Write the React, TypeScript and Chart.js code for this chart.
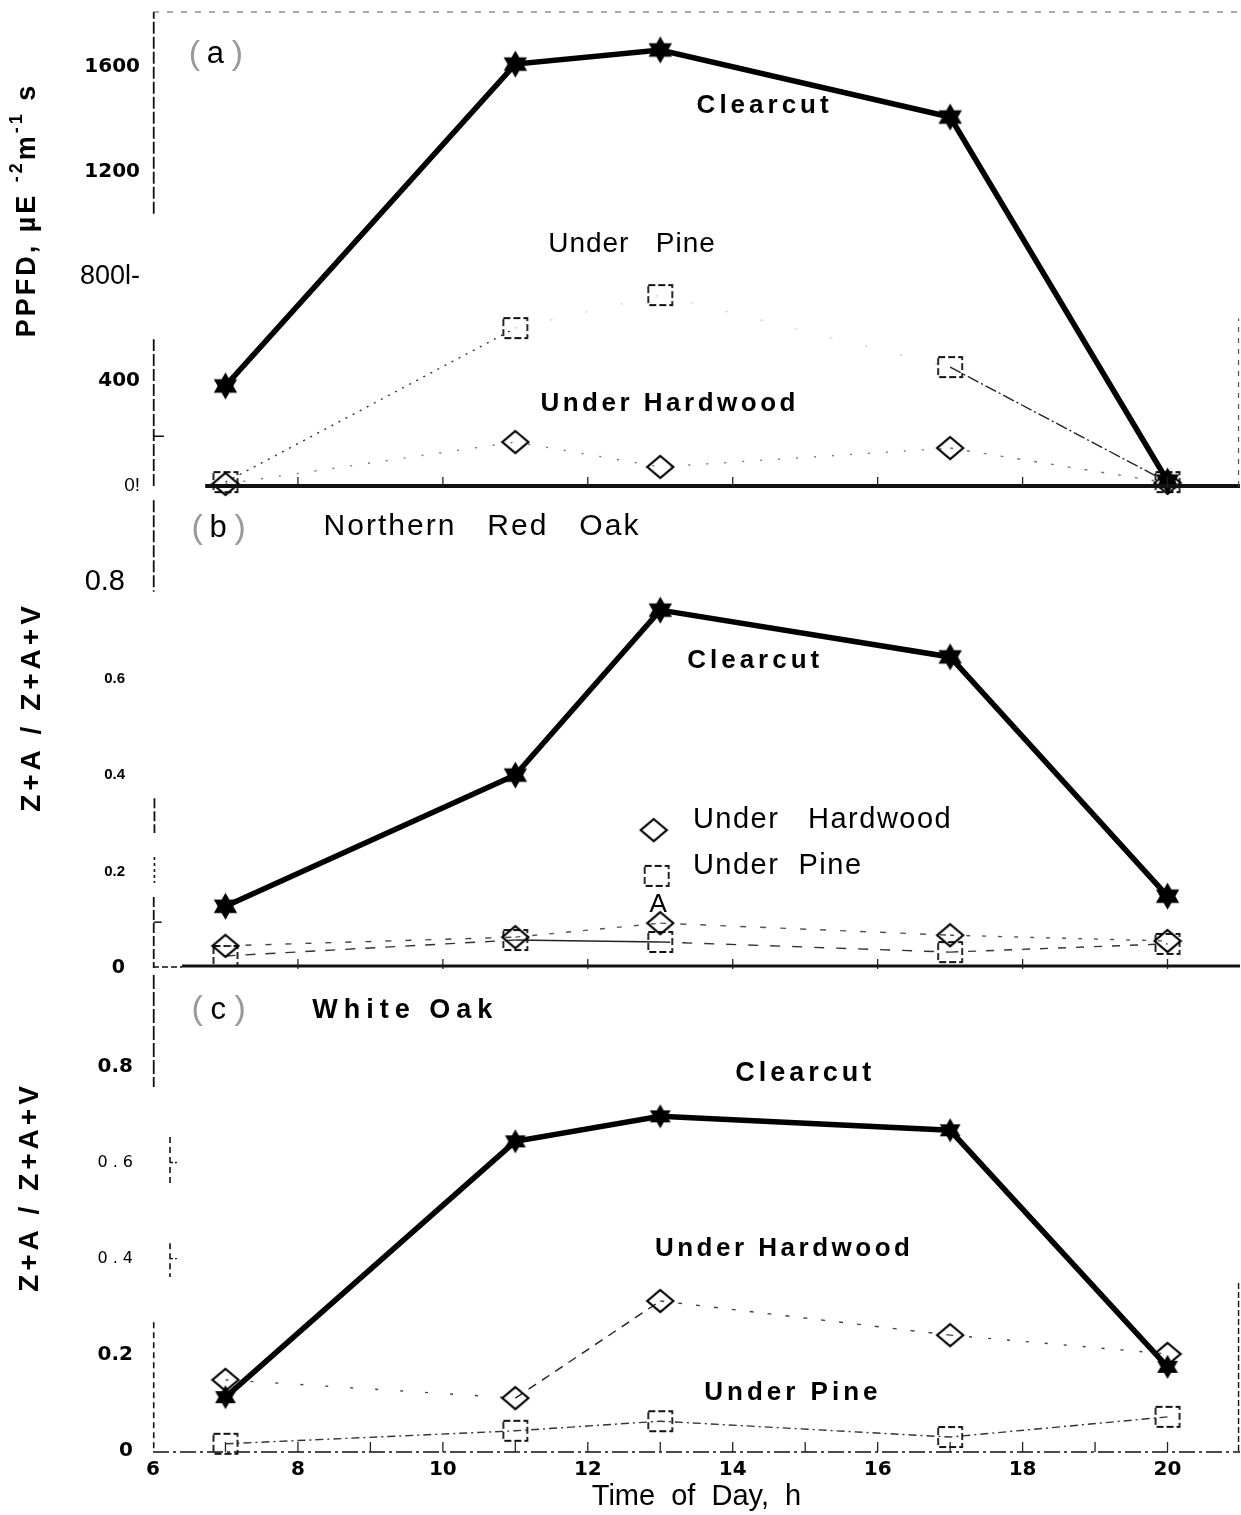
import React, { useEffect, useRef } from "react";
import { Chart, registerables } from "chart.js";
Chart.register(...registerables);

// ---------------- data ----------------
const hours = [7, 11, 13, 17, 20];
const xTickValues = [6, 8, 10, 12, 14, 16, 18, 20];
const xTickLabels = ["6", "8", "10", "12", "14", "16", "18", "20"];

// (a) PPFD
const ppfdClearcut = [382, 1611, 1665, 1409, 19];
const ppfdUnderPine = [15, 603, 729, 454, 15];
const ppfdUnderHardwood = [8, 168, 73, 145, 12];
const ppfdTickValues = [0, 400, 800, 1200, 1600];
const ppfdTickLabels = ["0!", "400", "800l-", "1200", "1600"];

// (b) Northern Red Oak
const redOakClearcut = [0.128, 0.4, 0.742, 0.645, 0.149];
const redOakUnderHardwood = [0.046, 0.064, 0.093, 0.068, 0.056];
const redOakUnderPine = [0.025, 0.058, 0.054, 0.033, 0.05];
const redOakTickValues = [0, 0.2, 0.4, 0.6, 0.8];
const redOakTickLabels = ["0", "0.2", "0.4", "0.6", "0.8"];

// (c) White Oak
const whiteOakClearcut = [0.112, 0.644, 0.696, 0.667, 0.175];
const whiteOakUnderHardwood = [0.148, 0.11, 0.312, 0.241, 0.202];
const whiteOakUnderPine = [0.015, 0.042, 0.062, 0.029, 0.071];
const whiteOakTickValues = [0, 0.2, 0.4, 0.6, 0.8];
const whiteOakTickLabels = ["0", "0.2", "0 . 4", "0 . 6", "0.8"];

// ---------------- styles ----------------
const SANS = '"Liberation Sans", Arial, sans-serif';
const DEJA = '"DejaVu Sans", sans-serif';
const X_MIN = 6;
const X_MAX = 21;

type Ann = { text: string; x: number; y: number; font: string; spacing?: number; align?: CanvasTextAlign };
type Ln = { x0: number; y0: number; x1: number; y1: number; w: number; dash?: number[]; color?: string };
type Rich = { t: string; sup?: boolean };
type Decor = {
  tag: { letter: string; x: number; y: number; font: string };
  anns: Ann[];
  lines: Ln[];
  hourTicks: number[];
  title: { parts: Rich[]; cx: number; cy: number; font: string; supFont: string; spacing: number };
  legend?: { img: "diamond" | "square"; x: number; y: number }[];
};

function makeStar(R: number): HTMLCanvasElement {
  const c = document.createElement("canvas");
  const s = Math.ceil(R * 2 + 4);
  c.width = s;
  c.height = s;
  const g = c.getContext("2d")!;
  const r = R / Math.sqrt(3);
  g.fillStyle = "#000";
  g.beginPath();
  for (let i = 0; i < 12; i++) {
    const rr = i % 2 === 0 ? R : r;
    const a = -Math.PI / 2 + (i * Math.PI) / 6;
    const px = s / 2 + rr * Math.cos(a);
    const py = s / 2 + rr * Math.sin(a);
    if (i === 0) g.moveTo(px, py);
    else g.lineTo(px, py);
  }
  g.closePath();
  g.fill();
  return c;
}

function makeDiamond(): HTMLCanvasElement {
  const c = document.createElement("canvas");
  c.width = 30;
  c.height = 26;
  const g = c.getContext("2d")!;
  g.strokeStyle = "#000";
  g.lineWidth = 2.2;
  g.beginPath();
  g.moveTo(15, 2);
  g.lineTo(28, 13);
  g.lineTo(15, 24);
  g.lineTo(2, 13);
  g.closePath();
  g.stroke();
  return c;
}

function makeSquare(): HTMLCanvasElement {
  const c = document.createElement("canvas");
  c.width = 30;
  c.height = 26;
  const g = c.getContext("2d")!;
  g.strokeStyle = "#111";
  g.lineWidth = 1.8;
  g.setLineDash([7, 3]);
  g.strokeRect(3, 3, 24, 20);
  return c;
}

function decorPlugin(d: Decor, imgs: { diamond: HTMLCanvasElement; square: HTMLCanvasElement }) {
  return {
    id: "decor",
    afterDraw(chart: any) {
      const ctx = chart.ctx as CanvasRenderingContext2D;
      const xs = chart.scales.x;
      const ys = chart.scales.y;
      const px = (v: number) => xs.getPixelForValue(v);
      const py = (v: number) => ys.getPixelForValue(v);
      ctx.save();
      for (const l of d.lines) {
        ctx.beginPath();
        ctx.strokeStyle = l.color ?? "#111";
        ctx.lineWidth = l.w;
        ctx.setLineDash(l.dash ?? []);
        ctx.moveTo(px(l.x0), py(l.y0));
        ctx.lineTo(px(l.x1), py(l.y1));
        ctx.stroke();
      }
      ctx.setLineDash([]);
      const yb = chart.chartArea.bottom;
      ctx.strokeStyle = "#222";
      ctx.lineWidth = 1.3;
      for (const h of d.hourTicks) {
        ctx.beginPath();
        ctx.moveTo(px(h), yb + 1);
        ctx.lineTo(px(h), yb - 9);
        ctx.stroke();
      }
      if (d.legend) {
        for (const m of d.legend) {
          const im = imgs[m.img];
          ctx.drawImage(im, px(m.x) - im.width / 2, py(m.y) - im.height / 2);
        }
      }
      ctx.fillStyle = "#000";
      ctx.textBaseline = "middle";
      for (const a of d.anns) {
        ctx.font = a.font;
        (ctx as any).letterSpacing = (a.spacing ?? 0) + "px";
        ctx.textAlign = a.align ?? "center";
        ctx.fillText(a.text, px(a.x), py(a.y));
      }
      (ctx as any).letterSpacing = "0px";
      // panel tag
      const tx = px(d.tag.x);
      const ty = py(d.tag.y);
      ctx.textAlign = "center";
      ctx.font = d.tag.font;
      ctx.fillStyle = "#000";
      ctx.fillText(d.tag.letter, tx, ty);
      ctx.font = `300 34px ${SANS}`;
      ctx.fillStyle = "#999";
      ctx.fillText("(", tx - 21, ty);
      ctx.fillText(")", tx + 22, ty);
      // rotated axis title
      const t = d.title;
      ctx.translate(t.cx, t.cy);
      ctx.rotate(-Math.PI / 2);
      ctx.fillStyle = "#000";
      ctx.textAlign = "left";
      (ctx as any).letterSpacing = t.spacing + "px";
      let total = 0;
      const widths: number[] = [];
      for (const p of t.parts) {
        ctx.font = p.sup ? t.supFont : t.font;
        const w = ctx.measureText(p.t).width;
        widths.push(w);
        total += w;
      }
      let x = -total / 2;
      t.parts.forEach((p, i) => {
        ctx.font = p.sup ? t.supFont : t.font;
        ctx.fillText(p.t, x, p.sup ? -11 : 0);
        x += widths[i];
      });
      ctx.restore();
    },
  };
}

const evenHours = [8, 10, 12, 14, 16, 18, 20];
const allHours = [7, 8, 9, 10, 11, 12, 13, 14, 15, 16, 17, 18, 19, 20];

const decorA: Decor = {
  tag: { letter: "a", x: 6.86, y: 1646, font: `31px ${SANS}` },
  anns: [
    { text: "Clearcut", x: 14.44, y: 1451, font: `bold 26px ${SANS}`, spacing: 4 },
    { text: "Under   Pine", x: 12.61, y: 924, font: `28px ${SANS}`, spacing: 1 },
    { text: "Under Hardwood", x: 13.13, y: 313, font: `bold 26px ${SANS}`, spacing: 3.5 },
  ],
  lines: [
    { x0: 6.01, y0: 0, x1: 6.01, y1: 560, w: 1.8, dash: [12, 3] },
    { x0: 6.01, y0: 1040, x1: 6.01, y1: 1810, w: 1.8, dash: [12, 3] },
    { x0: 6.01, y0: 190, x1: 6.15, y1: 190, w: 1.5 },
    { x0: 6.72, y0: 0, x1: 21, y1: 0, w: 4 },
    { x0: 6.0, y0: 1810, x1: 21, y1: 1810, w: 1.2, dash: [6, 8], color: "#555" },
    { x0: 20.98, y0: 0, x1: 20.98, y1: 640, w: 1.2, dash: [5, 6], color: "#555" },
  ],
  hourTicks: evenHours,
  title: {
    parts: [{ t: "PPFD, µE " }, { t: "-2", sup: true }, { t: "m" }, { t: "-1", sup: true }, { t: " s" }],
    cx: 28,
    cy: 210,
    font: `bold 27px ${SANS}`,
    supFont: `bold 18px ${SANS}`,
    spacing: 3,
  },
};

const decorB: Decor = {
  tag: { letter: "b", x: 6.9, y: 0.912, font: `31px ${SANS}` },
  anns: [
    { text: "Northern   Red   Oak", x: 10.54, y: 0.914, font: `30px ${SANS}`, spacing: 2 },
    { text: "Clearcut", x: 14.31, y: 0.636, font: `bold 26px ${SANS}`, spacing: 4 },
    { text: "Under   Hardwood", x: 13.45, y: 0.307, font: `29px ${SANS}`, spacing: 1.5, align: "left" },
    { text: "Under  Pine", x: 13.45, y: 0.211, font: `29px ${SANS}`, spacing: 1.5, align: "left" },
    { text: "A", x: 12.97, y: 0.131, font: `26px ${SANS}` },
  ],
  lines: [
    { x0: 6.01, y0: 0.97, x1: 6.01, y1: 0.78, w: 1.8, dash: [12, 3] },
    { x0: 6.02, y0: 0.352, x1: 6.02, y1: 0.28, w: 1.8, dash: [10, 3] },
    { x0: 6.02, y0: 0.23, x1: 6.02, y1: 0.176, w: 1.6, dash: [3, 3] },
    { x0: 6.01, y0: 0.147, x1: 6.01, y1: 0, w: 1.8, dash: [10, 3] },
    { x0: 6.01, y0: 0.095, x1: 6.12, y1: 0.095, w: 1.5 },
    { x0: 6.0, y0: 0.002, x1: 6.4, y1: 0.002, w: 1.5, dash: [6, 3] },
    { x0: 6.4, y0: 0.004, x1: 21, y1: 0.004, w: 3 },
  ],
  hourTicks: evenHours,
  title: {
    parts: [{ t: "Z+A / Z+A+V" }],
    cx: 32,
    cy: 227,
    font: `bold 28px ${SANS}`,
    supFont: `bold 18px ${SANS}`,
    spacing: 4,
  },
  legend: [
    { img: "diamond", x: 12.91, y: 0.286 },
    { img: "square", x: 12.95, y: 0.191 },
  ],
};

const decorC: Decor = {
  tag: { letter: "c", x: 6.9, y: 0.917, font: `31px ${SANS}` },
  anns: [
    { text: "White Oak", x: 9.48, y: 0.917, font: `bold 27px ${SANS}`, spacing: 6 },
    { text: "Clearcut", x: 15.0, y: 0.784, font: `bold 27px ${SANS}`, spacing: 4 },
    { text: "Under Hardwood", x: 14.71, y: 0.42, font: `bold 26px ${SANS}`, spacing: 3.5 },
    { text: "Under Pine", x: 14.83, y: 0.121, font: `bold 26px ${SANS}`, spacing: 4 },
  ],
  lines: [
    { x0: 6.01, y0: 0.99, x1: 6.01, y1: 0.757, w: 1.8, dash: [14, 3] },
    { x0: 6.235, y0: 0.653, x1: 6.235, y1: 0.549, w: 1.6, dash: [6, 4] },
    { x0: 6.235, y0: 0.6, x1: 6.33, y1: 0.6, w: 1.3, dash: [3, 2] },
    { x0: 6.235, y0: 0.432, x1: 6.235, y1: 0.362, w: 1.6, dash: [6, 4] },
    { x0: 6.235, y0: 0.4, x1: 6.33, y1: 0.4, w: 1.3, dash: [3, 2] },
    { x0: 6.01, y0: 0.268, x1: 6.01, y1: 0, w: 1.6, dash: [6, 4] },
    { x0: 6.0, y0: -0.002, x1: 21, y1: -0.002, w: 1.6, dash: [16, 4, 3, 4] },
    { x0: 20.98, y0: 0, x1: 20.98, y1: 0.35, w: 1.4, dash: [6, 3] },
  ],
  hourTicks: allHours,
  title: {
    parts: [{ t: "Z+A / Z+A+V" }],
    cx: 30,
    cy: 227,
    font: `bold 28px ${SANS}`,
    supFont: `bold 18px ${SANS}`,
    spacing: 4,
  },
};

type F = { family: string; size: number; weight?: string };
const fontsA: F[] = [
  { family: SANS, size: 19 },
  { family: DEJA, size: 20, weight: "bold" },
  { family: SANS, size: 27 },
  { family: DEJA, size: 20, weight: "bold" },
  { family: DEJA, size: 20, weight: "bold" },
];
const fontsB: F[] = [
  { family: DEJA, size: 19, weight: "bold" },
  { family: SANS, size: 15, weight: "bold" },
  { family: SANS, size: 15, weight: "bold" },
  { family: SANS, size: 15, weight: "bold" },
  { family: SANS, size: 29 },
];
const fontsC: F[] = [
  { family: DEJA, size: 20, weight: "bold" },
  { family: DEJA, size: 20, weight: "bold" },
  { family: DEJA, size: 16 },
  { family: DEJA, size: 16 },
  { family: DEJA, size: 20, weight: "bold" },
];

function toPts(vals: number[]) {
  return hours.map((h, i) => ({ x: h, y: vals[i] }));
}

function thinSeries(label: string, vals: number[], img: HTMLCanvasElement, dashes: number[][], colors: string[]) {
  return {
    label,
    data: toPts(vals),
    borderColor: "#333",
    borderWidth: 1.4,
    pointStyle: img,
    pointRadius: 10,
    clip: false,
    segment: {
      borderDash: (c: any) => dashes[c.p0DataIndex],
      borderColor: (c: any) => colors[c.p0DataIndex],
    },
  };
}

function buildChart(
  canvas: HTMLCanvasElement,
  opts: {
    clear: number[];
    hard: number[];
    pine: number[];
    star: HTMLCanvasElement;
    diamond: HTMLCanvasElement;
    square: HTMLCanvasElement;
    hardDash: number[][];
    hardColor: string[];
    pineDash: number[][];
    pineColor: string[];
    yMax: number;
    yTicks: number[];
    yLabels: string[];
    yFonts: F[];
    yPad: number;
    padTop: number;
    padBottom: number;
    showX: boolean;
    decor: Decor;
  }
) {
  return new Chart(canvas, {
    type: "line",
    data: {
      datasets: [
        {
          label: "Clearcut",
          data: toPts(opts.clear),
          borderColor: "#000",
          borderWidth: 5.5,
          pointStyle: opts.star as any,
          pointRadius: 10,
          clip: false as any,
        },
        thinSeries("Under Hardwood", opts.hard, opts.diamond, opts.hardDash, opts.hardColor) as any,
        thinSeries("Under Pine", opts.pine, opts.square, opts.pineDash, opts.pineColor) as any,
      ],
    },
    options: {
      responsive: false,
      animation: false,
      devicePixelRatio: 1,
      layout: { autoPadding: false, padding: { left: 0, right: 1, top: opts.padTop, bottom: opts.padBottom } },
      plugins: { legend: { display: false }, tooltip: { enabled: false } },
      scales: {
        x: {
          type: "linear",
          min: X_MIN,
          max: X_MAX,
          display: opts.showX,
          grid: { display: false, drawTicks: false },
          border: { display: false },
          afterBuildTicks: (s: any) => {
            s.ticks = xTickValues.map((v) => ({ value: v }));
          },
          afterFit: (s: any) => {
            s.height = opts.showX ? 64 : 0;
            s.paddingLeft = 0;
            s.paddingRight = 0;
            s.paddingTop = 0;
            s.paddingBottom = 0;
          },
          ticks: {
            autoSkip: false,
            maxRotation: 0,
            padding: 7,
            color: "#000",
            font: { family: DEJA, size: 20, weight: "bold" },
            callback: (_v: any, i: number) => xTickLabels[i],
          },
          title: {
            display: true,
            text: "Time  of  Day,  h",
            color: "#000",
            font: { family: SANS, size: 29 },
            padding: { top: 0, bottom: 1 },
          },
        },
        y: {
          type: "linear",
          min: 0,
          max: opts.yMax,
          grid: { display: false, drawTicks: false },
          border: { display: false },
          afterBuildTicks: (s: any) => {
            s.ticks = opts.yTicks.map((v) => ({ value: v }));
          },
          afterFit: (s: any) => {
            s.width = 153;
            s.paddingTop = 0;
            s.paddingBottom = 0;
            s.paddingLeft = 0;
            s.paddingRight = 0;
          },
          ticks: {
            autoSkip: false,
            padding: opts.yPad,
            color: "#000",
            font: ((c: any) => opts.yFonts[c.index] ?? opts.yFonts[0]) as any,
            callback: (_v: any, i: number) => opts.yLabels[i],
          },
        },
      },
    },
    plugins: [decorPlugin(opts.decor, { diamond: opts.diamond, square: opts.square }) as any],
  });
}

export default function App() {
  const refA = useRef<HTMLCanvasElement>(null);
  const refB = useRef<HTMLCanvasElement>(null);
  const refC = useRef<HTMLCanvasElement>(null);

  useEffect(() => {
    const starBig = makeStar(13.5);
    const starSmall = makeStar(12);
    const diamond = makeDiamond();
    const square = makeSquare();
    const charts: Chart[] = [];

    charts.push(
      buildChart(refA.current!, {
        clear: ppfdClearcut,
        hard: ppfdUnderHardwood,
        pine: ppfdUnderPine,
        star: starBig,
        diamond,
        square,
        hardDash: [[2, 16], [2, 16], [2, 16], [3, 14]],
        hardColor: ["#777", "#777", "#777", "#777"],
        pineDash: [[2, 6], [2, 34], [2, 34], [12, 3, 2, 3]],
        pineColor: ["#333", "#ccc", "#ccc", "#222"],
        yMax: 1810,
        yTicks: ppfdTickValues,
        yLabels: ppfdTickLabels,
        yFonts: fontsA,
        yPad: 13,
        padTop: 12,
        padBottom: 14,
        showX: false,
        decor: decorA,
      })
    );
    charts.push(
      buildChart(refB.current!, {
        clear: redOakClearcut,
        hard: redOakUnderHardwood,
        pine: redOakUnderPine,
        star: starBig,
        diamond,
        square,
        hardDash: [[6, 14], [5, 12], [6, 14], [4, 12]],
        hardColor: ["#444", "#555", "#555", "#555"],
        pineDash: [[10, 10], [], [10, 12], [8, 10]],
        pineColor: ["#333", "#222", "#333", "#333"],
        yMax: 0.987,
        yTicks: redOakTickValues,
        yLabels: redOakTickLabels,
        yFonts: fontsB,
        yPad: 28,
        padTop: 12,
        padBottom: 12,
        showX: false,
        decor: decorB,
      })
    );
    charts.push(
      buildChart(refC.current!, {
        clear: whiteOakClearcut,
        hard: whiteOakUnderHardwood,
        pine: whiteOakUnderPine,
        star: starSmall,
        diamond,
        square,
        hardDash: [[3, 22], [9, 7], [4, 14], [3, 16]],
        hardColor: ["#444", "#222", "#444", "#444"],
        pineDash: [[8, 4, 2, 4], [8, 4, 2, 4], [8, 4, 2, 4], [8, 4, 2, 4]],
        pineColor: ["#333", "#333", "#333", "#333"],
        yMax: 0.99,
        yTicks: whiteOakTickValues,
        yLabels: whiteOakTickLabels,
        yFonts: fontsC,
        yPad: 20,
        padTop: 15,
        padBottom: 0,
        showX: true,
        decor: decorC,
      })
    );
    return () => charts.forEach((c) => c.destroy());
  }, []);

  const cs = (top: number, h: number): React.CSSProperties => ({
    position: "absolute",
    left: 0,
    top,
    width: 1241,
    height: h,
  });

  return (
    <div style={{ position: "absolute", left: 0, top: 0, width: 1241, height: 1515, background: "#fff", overflow: "hidden" }}>
      <canvas ref={refA} width={1241} height={500} style={cs(0, 500)} />
      <canvas ref={refB} width={1241} height={500} style={cs(480, 500)} />
      <canvas ref={refC} width={1241} height={555} style={cs(960, 555)} />
    </div>
  );
}
